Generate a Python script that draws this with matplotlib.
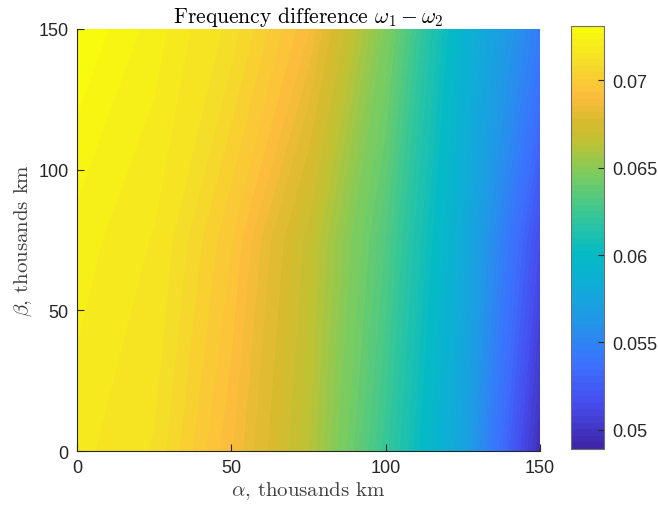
import numpy as np
import matplotlib
matplotlib.use('Agg')
import matplotlib.pyplot as plt
from matplotlib.colors import LinearSegmentedColormap, Normalize

# grid (thousands km)
alpha_km = [0, 25, 50, 75, 100, 125, 150]
beta_km = [0, 75, 150]
# frequency difference at each (beta, alpha) node
freq_beta0 = [0.0718, 0.0711, 0.0690, 0.0663, 0.0623, 0.0574, 0.0495]
freq_beta75 = [0.0722, 0.0716, 0.0697, 0.0668, 0.0632, 0.0582, 0.0515]
freq_beta150 = [0.0731, 0.0722, 0.0710, 0.0690, 0.0647, 0.0591, 0.0545]

cbar_ticks = [0.05, 0.055, 0.06, 0.065, 0.07]
cbar_labels = ['0.05', '0.055', '0.06', '0.065', '0.07']
vmin, vmax = 0.0489, 0.0731

# parula-like colormap
parula_pts = [
    (0.00, (0.2422, 0.1504, 0.6603)),
    (0.10, (0.2760, 0.2950, 0.9300)),
    (0.20, (0.2300, 0.4500, 0.9950)),
    (0.30, (0.1300, 0.5900, 0.9100)),
    (0.40, (0.0500, 0.6900, 0.8300)),
    (0.46, (0.0200, 0.7300, 0.7700)),
    (0.55, (0.2000, 0.7800, 0.6000)),
    (0.65, (0.4800, 0.8000, 0.3800)),
    (0.73, (0.7500, 0.7600, 0.2000)),
    (0.78, (0.8500, 0.7300, 0.1800)),
    (0.84, (0.9900, 0.7400, 0.2400)),
    (0.92, (0.9600, 0.8700, 0.1600)),
    (1.00, (0.9763, 0.9831, 0.0538)),
]
parula = LinearSegmentedColormap.from_list('parula', parula_pts, N=64)

plt.rcParams['font.family'] = ['Liberation Sans', 'DejaVu Sans']
plt.rcParams['mathtext.fontset'] = 'cm'

Z = np.array([freq_beta0, freq_beta75, freq_beta150])
norm = Normalize(vmin=vmin, vmax=vmax)

fig = plt.figure(figsize=(6.58, 5.10), dpi=100)
ax = fig.add_axes([0.117, 0.1137, 0.7036, 0.8275])
cax = fig.add_axes([0.8678, 0.1176, 0.0502, 0.829])

levels = np.linspace(vmin, vmax, 200)
cs = ax.contourf(alpha_km, beta_km, Z, levels=levels, cmap=parula, norm=norm,
                 antialiased=False)

ax.set_xlim(0, 150)
ax.set_ylim(0, 150)
ax.set_xticks([0, 50, 100, 150])
ax.set_yticks([0, 50, 100, 150])
ax.tick_params(direction='in', length=5, labelsize=13, colors='#262626', pad=6)
for s in ['top', 'right']:
    ax.spines[s].set_visible(False)
for s in ['left', 'bottom']:
    ax.spines[s].set_color('#262626')
    ax.spines[s].set_linewidth(0.8)

lbl_font = dict(family='cmr10', size=15, color='#404040')
ax.set_title(r'Frequency difference $\omega_1 - \omega_2$', fontfamily='cmr10',
             fontsize=15.5, color='black', pad=5)
ax.set_xlabel(r'$\alpha$, thousands km', **lbl_font, labelpad=2)
ax.set_ylabel(r'$\beta$, thousands km', **lbl_font, labelpad=3)

sm = plt.cm.ScalarMappable(norm=norm, cmap=parula)
cb = fig.colorbar(sm, cax=cax)
cb.set_ticks(cbar_ticks)
cb.set_ticklabels(cbar_labels)
cb.ax.tick_params(direction='in', length=4, labelsize=13, colors='#262626', pad=6)
cb.outline.set_edgecolor('#6e6e6e')
cb.outline.set_linewidth(0.8)

fig.savefig('out.png', dpi=100)
